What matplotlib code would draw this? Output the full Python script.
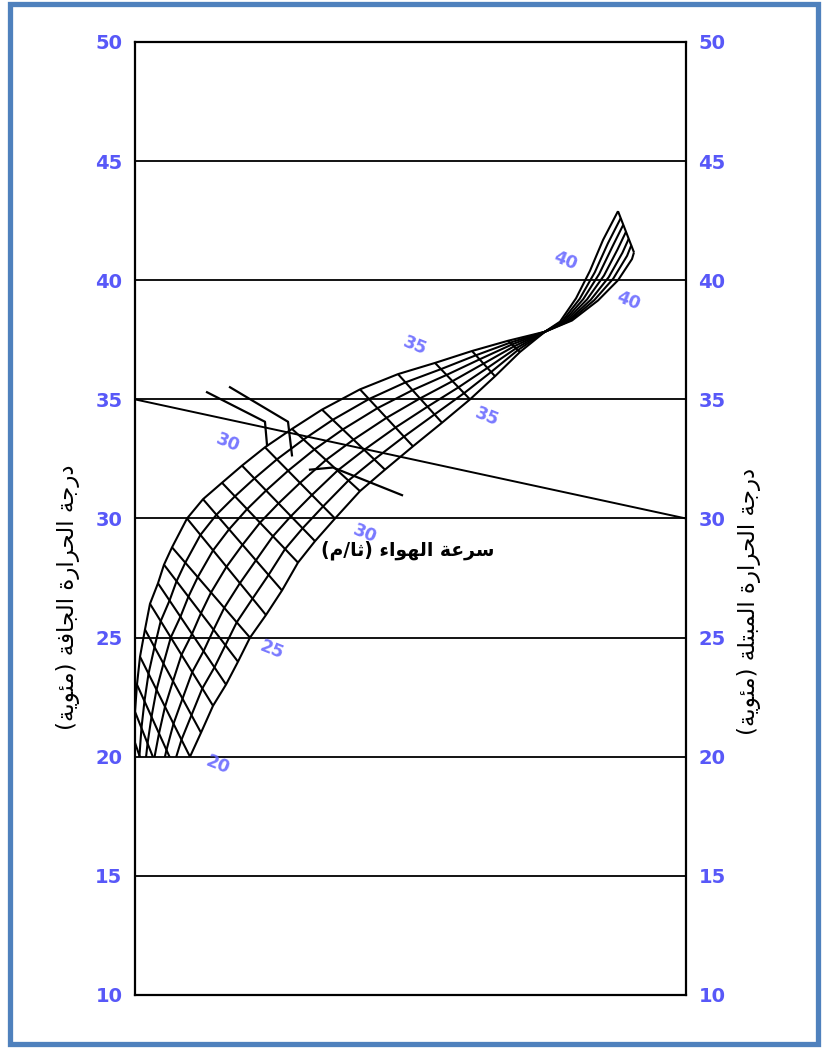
import numpy as np
import matplotlib
matplotlib.use("Agg")
import matplotlib.pyplot as plt
from matplotlib.patches import Rectangle

# ---------------- data ----------------
y_ticks = [10, 15, 20, 25, 30, 35, 40, 45, 50]
grid_levels = [15, 20, 25, 30, 35, 40, 45]

# effective-temperature lines (one per degree); each runs from the inner edge
# of the velocity band (upper-left) to its outer edge (lower-right)
et_levels = list(range(15, 39))
inner_x = [-0.54, -0.36, -0.18, 0.0, 0.36, 0.91, 1.81, 2.72, 4.17, 5.26, 6.72, 9.44,
           12.34, 15.79, 19.42, 23.59, 28.49, 33.94, 40.83, 47.73, 54.45, 61.16, 67.70, 74.41]
inner_y = [18.33, 19.53, 20.71, 21.89, 23.03, 24.20, 25.34, 26.42, 27.28, 28.06, 28.79, 30.0,
           30.81, 31.50, 32.22, 32.99, 33.76, 34.57, 35.42, 36.06, 36.53, 37.03, 37.46, 37.84]
outer_x = [3.63, 4.54, 5.63, 6.90, 8.35, 9.98, 11.98, 14.16, 16.52, 18.69, 20.87, 23.77,
           26.68, 29.58, 32.67, 36.30, 40.83, 45.37, 50.45, 55.72, 60.80, 65.34, 69.87, 74.41]
outer_y = [14.66, 15.73, 16.79, 17.86, 18.93, 20.0, 21.01, 22.14, 23.03, 23.99, 25.0, 25.95,
           26.98, 28.15, 29.05, 30.0, 31.15, 32.05, 33.03, 34.02, 35.0, 35.97, 36.99, 37.84]

# fan beyond the crossing point of the velocity curves
fan_levels = [38, 39, 40, 41, 42, 43]
fan_upper_x = [74.41, 77.13, 80.04, 82.58, 84.94, 87.66]
fan_upper_y = [37.84, 38.26, 39.24, 40.40, 41.69, 42.90]
fan_lower_x = [74.41, 79.31, 84.03, 87.66, 90.20, 90.56]
fan_lower_y = [37.84, 38.31, 39.15, 40.0, 40.89, 41.17]

# relative position of each air-velocity curve across the band
speed_fracs = [0.0, 0.17, 0.33, 0.5, 0.67, 0.83, 1.0]

# example reading: dry bulb 35 (left) to wet bulb 30 (right)
reading_dry = 35
reading_wet = 30

# hand-drawn pointer lines
annot_a_x = [13.07, 23.59, 23.96]
annot_a_y = [35.30, 34.06, 33.08]
annot_b_x = [17.24, 27.77, 28.49]
annot_b_y = [35.51, 34.06, 32.65]
annot_c_x = [31.76, 35.93, 48.46]
annot_c_y = [32.05, 32.14, 30.98]

# effective-temperature labels on the chart
et_label_text = ["20", "25", "30", "35", "30", "35", "40", "40"]
et_label_x = [15.06, 24.86, 41.74, 63.88, 16.88, 50.82, 78.04, 89.47]
et_label_y = [19.66, 24.50, 29.35, 34.27, 33.16, 37.25, 40.81, 39.15]

title_words = "سرعة الهواء"
title_unit = ["م", "ثا"]          # (م/ثا)
label_left = "درجة الحرارة الجافة (مئوية)"
label_right = "درجة الحرارة المبتلة (مئوية)"

# ---------------- Arabic shaping (presentation forms, visual order) ----------------
AR_FORMS = {  # isolated, final, initial, medial
    '\u0621': ('\uFE80', None, None, None),
    '\u0626': ('\uFE89', '\uFE8A', '\uFE8B', '\uFE8C'),
    '\u0627': ('\uFE8D', '\uFE8E', None, None),
    '\u0628': ('\uFE8F', '\uFE90', '\uFE91', '\uFE92'),
    '\u0629': ('\uFE93', '\uFE94', None, None),
    '\u062A': ('\uFE95', '\uFE96', '\uFE97', '\uFE98'),
    '\u062B': ('\uFE99', '\uFE9A', '\uFE9B', '\uFE9C'),
    '\u062C': ('\uFE9D', '\uFE9E', '\uFE9F', '\uFEA0'),
    '\u062D': ('\uFEA1', '\uFEA2', '\uFEA3', '\uFEA4'),
    '\u062F': ('\uFEA9', '\uFEAA', None, None),
    '\u0631': ('\uFEAD', '\uFEAE', None, None),
    '\u0633': ('\uFEB1', '\uFEB2', '\uFEB3', '\uFEB4'),
    '\u0639': ('\uFEC9', '\uFECA', '\uFECB', '\uFECC'),
    '\u0641': ('\uFED1', '\uFED2', '\uFED3', '\uFED4'),
    '\u0642': ('\uFED5', '\uFED6', '\uFED7', '\uFED8'),
    '\u0644': ('\uFEDD', '\uFEDE', '\uFEDF', '\uFEE0'),
    '\u0645': ('\uFEE1', '\uFEE2', '\uFEE3', '\uFEE4'),
    '\u0647': ('\uFEE9', '\uFEEA', '\uFEEB', '\uFEEC'),
    '\u0648': ('\uFEED', '\uFEEE', None, None),
    '\u064A': ('\uFEF1', '\uFEF2', '\uFEF3', '\uFEF4'),
}


def shape_ar(s):
    out = []
    n = len(s)
    for i, c in enumerate(s):
        f = AR_FORMS.get(c)
        if f is None:
            out.append(c)
            continue
        pf = AR_FORMS.get(s[i - 1]) if i > 0 else None
        nf = AR_FORMS.get(s[i + 1]) if i < n - 1 else None
        jp = pf is not None and pf[2] is not None and f[1] is not None
        jn = f[2] is not None and nf is not None and nf[1] is not None
        if jp and jn:
            g = f[3]
        elif jp:
            g = f[1]
        elif jn:
            g = f[2]
        else:
            g = f[0]
        out.append(g)
    vis = "".join(reversed(out))
    return vis.translate(str.maketrans("()", ")("))


# ---------------- figure ----------------
W, H = 824, 1048
fig = plt.figure(figsize=(W / 100, H / 100), dpi=100)
fig.patch.set_facecolor("white")

ax = fig.add_axes([135 / W, 1 - 995 / H, (686 - 135) / W, (995 - 42) / H])
ax.set_xlim(0, 100)
ax.set_ylim(10, 50)
for sp in ax.spines.values():
    sp.set_linewidth(1.6)
    sp.set_color("black")

blue = "#5858f8"
ax.set_yticks(y_ticks)
ax.set_xticks([])
ax.tick_params(axis="y", length=0, labelsize=14, labelcolor=blue,
               left=True, right=True, labelleft=True, labelright=True)
for t in ax.yaxis.get_major_ticks():
    t.label1.set_fontweight("bold")
    t.label2.set_fontweight("bold")
    t.label2.set_color(blue)
    t.label2.set_fontsize(14)
    t.set_pad(9)

for g in grid_levels:
    ax.axhline(g, color="black", lw=1.3, zorder=1)

clip = Rectangle((0, 20), 100, 30, transform=ax.transData)

ix, iy = np.array(inner_x), np.array(inner_y)
ox, oy = np.array(outer_x), np.array(outer_y)
ux, uy = np.array(fan_upper_x), np.array(fan_upper_y)
lx, ly = np.array(fan_lower_x), np.array(fan_lower_y)

mesh_kw = dict(color="black", lw=1.5, solid_capstyle="butt", zorder=3)

# air-velocity curves
for f in speed_fracs:
    cx = np.concatenate([ix + f * (ox - ix), (ux + f * (lx - ux))[1:]])
    cy = np.concatenate([iy + f * (oy - iy), (uy + f * (ly - uy))[1:]])
    ln, = ax.plot(cx, cy, **mesh_kw)
    ln.set_clip_path(clip)

# effective-temperature lines
for k in range(len(et_levels)):
    ln, = ax.plot([ix[k], ox[k]], [iy[k], oy[k]], **mesh_kw)
    ln.set_clip_path(clip)
ax.plot([ux[-1], lx[-1]], [uy[-1], ly[-1]], **mesh_kw)

# reading line and pointers
ax.plot([0, 100], [reading_dry, reading_wet], color="black", lw=1.4, zorder=3)
for axx, ayy in [(annot_a_x, annot_a_y), (annot_b_x, annot_b_y), (annot_c_x, annot_c_y)]:
    ax.plot(axx, ayy, color="black", lw=1.6, zorder=3)

for t, x, y in zip(et_label_text, et_label_x, et_label_y):
    ax.text(x, y, t, color="#6262ff", fontsize=12.5, fontweight="bold",
            rotation=-22, ha="center", va="center", alpha=0.85, zorder=4)

mid_text = ("(" + shape_ar(title_unit[0]) + "/" + shape_ar(title_unit[1]) + ") "
            + shape_ar(title_words))
ax.text(49.5, 28.66, mid_text, fontsize=13.5, fontweight="bold",
        ha="center", va="center", color="black", zorder=5)

fig.text(68 / W, 1 - 597 / H, shape_ar(label_left), rotation=90, fontsize=16.5,
         ha="center", va="center", color="black")
fig.text(749 / W, 1 - 601 / H, shape_ar(label_right), rotation=90, fontsize=16.5,
         ha="center", va="center", color="black")

# blue page frame
fig.patches.append(Rectangle((9.5 / W, 1 - 1044 / H), 808 / W, 1040 / H,
                             transform=fig.transFigure, fill=False,
                             edgecolor="#4f81bd", lw=3.8))

fig.savefig("out.png", dpi=100, facecolor="white")
